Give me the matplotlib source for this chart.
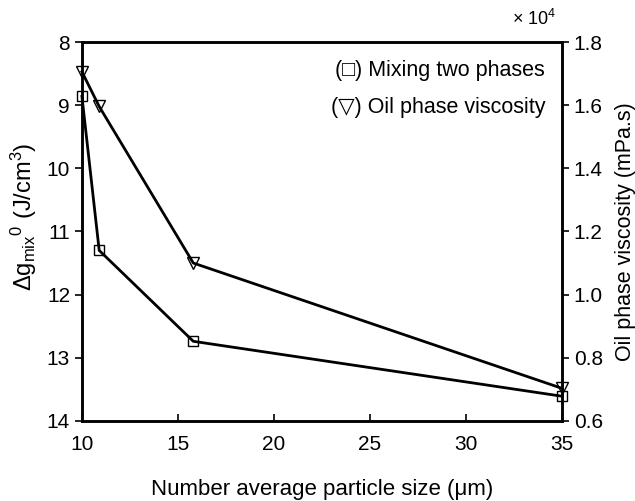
import matplotlib
matplotlib.use("Agg")
import matplotlib.pyplot as plt
from matplotlib.ticker import FuncFormatter

plt.rcParams['font.family'] = ['Liberation Sans', 'DejaVu Sans']
plt.rcParams['mathtext.fontset'] = 'custom'
plt.rcParams['mathtext.rm'] = 'Liberation Sans'
plt.rcParams['mathtext.it'] = 'Liberation Sans:italic'

# data
particle_size = [10.0, 10.9, 15.8, 35.0]
dg_mix = [8.86, 11.3, 12.74, 13.61]
viscosity = [17060, 15960, 11000, 7030]  # mPa.s

x_ticks = [10, 15, 20, 25, 30, 35]
left_ticks = [8, 9, 10, 11, 12, 13, 14]
right_ticks = [6000, 8000, 10000, 12000, 14000, 16000, 18000]

fig = plt.figure(figsize=(6.35, 5.01), dpi=100)
ax = fig.add_axes([0.129, 0.160, 0.756, 0.756])
ax2 = ax.twinx()

ax.plot(particle_size, dg_mix, color='black', lw=2.0, marker='s', ms=6.5,
        mfc='none', mec='black', mew=1.0, clip_on=False, zorder=3)
ax2.plot(particle_size, viscosity, color='black', lw=2.0, marker='v', ms=8,
         mfc='none', mec='black', mew=1.0, clip_on=False, zorder=3)

ax.set_xlim(10, 35)
ax.set_ylim(14, 8)
ax2.set_ylim(6000, 18000)
ax.set_xticks(x_ticks)
ax.set_yticks(left_ticks)
ax2.set_yticks(right_ticks)
ax2.yaxis.set_major_formatter(FuncFormatter(lambda v, p: '%.1f' % (v / 1e4)))

for a in (ax, ax2):
    for s in a.spines.values():
        s.set_linewidth(1.8)
ax.tick_params(axis='x', direction='in', length=5, width=1.2, labelsize=15, pad=10)
ax.tick_params(axis='y', direction='out', length=5, width=1.2, labelsize=15)
ax2.tick_params(axis='y', direction='out', length=5, width=1.2, labelsize=15)

ax.set_xlabel('Number average particle size (\u03bcm)', fontsize=16, labelpad=18)
ax.set_ylabel('$\\Delta$g$_{\\rm mix}$$^{\\rm 0}$ (J/cm$^{\\rm 3}$)', fontsize=17)
ax.yaxis.set_label_coords(-0.09, 0.54)
ax2.set_ylabel('Oil phase viscosity (mPa.s)', fontsize=15.5, labelpad=9)

fig.text(0.876, 0.95, '\u00d7 10$^{\\rm 4}$', fontsize=13, ha='right', va='baseline')

ax.text(0.965, 0.926, '(\u25a1) Mixing two phases', transform=ax.transAxes,
        ha='right', va='center', fontsize=15.5)
ax.text(0.965, 0.828, '(\u25bd) Oil phase viscosity', transform=ax.transAxes,
        ha='right', va='center', fontsize=15.5)

fig.savefig('out.png', dpi=100)
